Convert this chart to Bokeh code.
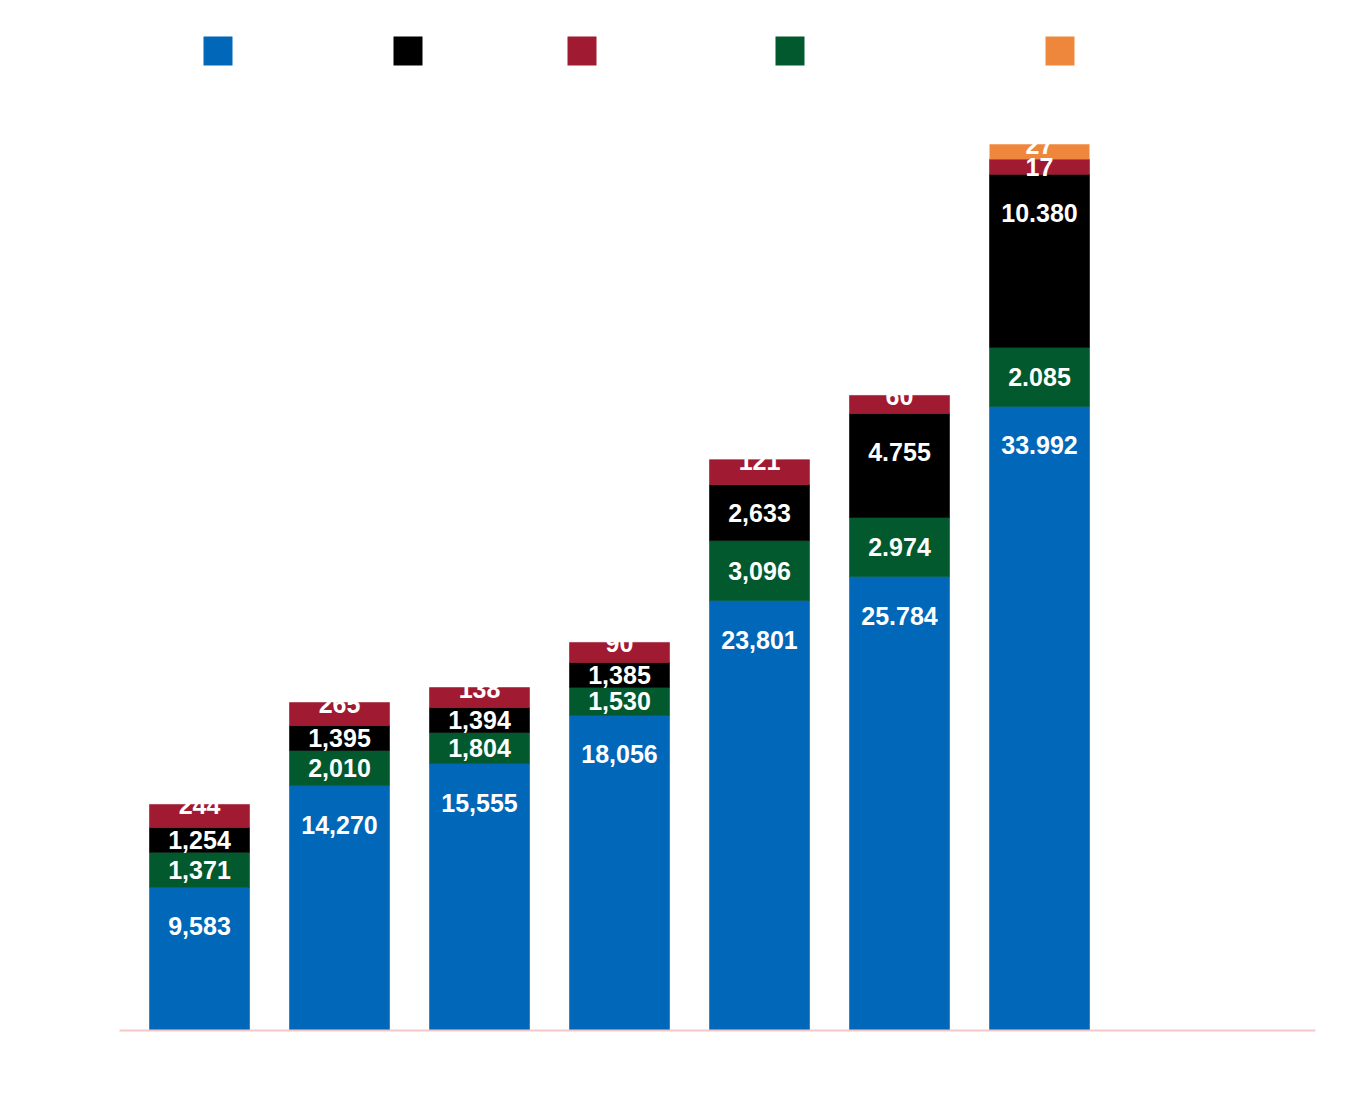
from bokeh.plotting import figure
from bokeh.models import ColumnDataSource, Range1d, FixedTicker
from bokeh.core.properties import value
from bokeh.embed import file_html
from bokeh.resources import INLINE

# ---------------- data ----------------
bars = [0, 1, 2, 3, 4, 5, 6]
series = ["blue", "green", "black", "red", "orange"]
# segment heights as drawn
blue_vals = [7800, 13350, 14550, 17170, 23430, 24740, 34010]
green_vals = [1910, 1910, 1690, 1530, 3270, 3220, 3220]
black_vals = [1360, 1360, 1360, 1360, 3050, 5670, 9430]
red_vals = [1250, 1250, 1090, 1090, 1360, 980, 820]
orange_vals = [0, 0, 0, 0, 0, 0, 820]
# printed labels
blue_labels = ["9,583", "14,270", "15,555", "18,056", "23,801", "25.784", "33.992"]
green_labels = ["1,371", "2,010", "1,804", "1,530", "3,096", "2.974", "2.085"]
black_labels = ["1,254", "1,395", "1,394", "1,385", "2,633", "4.755", "10.380"]
red_labels = ["244", "265", "138", "90", "121", "60", "17"]
orange_labels = ["", "", "", "", "", "", "27"]

colors = {"blue": "#0067b9", "green": "#02592d", "black": "#000000",
          "red": "#a01b32", "orange": "#ee873b"}
legend_order = ["blue", "black", "red", "green", "orange"]

vals = {"blue": blue_vals, "green": green_vals, "black": black_vals,
        "red": red_vals, "orange": orange_vals}
labels = {"blue": blue_labels, "green": green_labels, "black": black_labels,
          "red": red_labels, "orange": orange_labels}

# ---------------- layout ----------------
W, H = 1354, 1088
LEFT, RIGHT, TOP, BOTTOM = 119, 39, 8, 58
FW = W - LEFT - RIGHT          # 1196
FH = H - TOP - BOTTOM          # 1022
UNITS_PER_PX = 54.5
Y_MAX = FH * UNITS_PER_PX
STEP = 140.0                   # px per category
X0 = 80.0                      # px from frame left to first bar center

p = figure(width=W, height=H, output_backend="svg", toolbar_location=None,
           x_range=Range1d(-X0 / STEP, (FW - X0) / STEP),
           y_range=Range1d(0, Y_MAX),
           min_border_left=LEFT, min_border_right=RIGHT,
           min_border_top=TOP, min_border_bottom=BOTTOM)
p.outline_line_color = None
p.grid.visible = False
p.yaxis.visible = False
p.background_fill_color = "white"
p.border_fill_color = "white"

xa = p.xaxis[0]
xa.ticker = FixedTicker(ticks=[])
xa.major_tick_line_color = None
xa.minor_tick_line_color = None
xa.major_label_text_font_size = "0px"
xa.axis_line_color = "#f5c8c8"
xa.axis_line_width = 2

src = ColumnDataSource(dict(x=bars, **{s: vals[s] for s in series}))
renderers = p.vbar_stack(series, x="x", width=100 / STEP, source=src,
                         fill_color=[colors[s] for s in series],
                         line_color=[colors[s] for s in series], line_width=0.6)
# no outline on the (mostly empty) top series
renderers[-1].glyph.line_color = None

# ---------------- segment labels ----------------
cap = 39 * UNITS_PER_PX
lx, ly, lt = [], [], []
for i in range(len(bars)):
    cum = 0.0
    tops = []
    for s in series:
        cum += vals[s][i]
        tops.append(cum)
    # topmost non-zero segment
    top_idx = max(k for k, s in enumerate(series) if vals[s][i] > 0)
    for k, s in enumerate(series):
        h = vals[s][i]
        if h <= 0 or not labels[s][i]:
            continue
        if k == top_idx:
            y = tops[k] - 1 * UNITS_PER_PX
        else:
            y = tops[k] - min(h / 2.0, cap)
        lx.append(bars[i])
        ly.append(y)
        lt.append(labels[s][i])

p.text(x=lx, y=ly, text=lt, text_color="white", text_align="center",
       text_baseline="middle", text_font=value("Liberation Sans"),
       text_font_style="bold", text_font_size="25px")

# ---------------- legend swatches (pixel ranges) ----------------
p.extra_x_ranges = {"px": Range1d(0, FW)}
p.extra_y_ranges = {"py": Range1d(0, FH)}
leg_x = [98.5, 288.5, 462.5, 670.5, 940.5]
leg_y = [FH - 42.5] * 5
p.rect(x=leg_x, y=leg_y, width=29, height=29,
       color=[colors[s] for s in legend_order], line_color=None,
       x_range_name="px", y_range_name="py")

open("out.html", "w").write(file_html(p, INLINE))
